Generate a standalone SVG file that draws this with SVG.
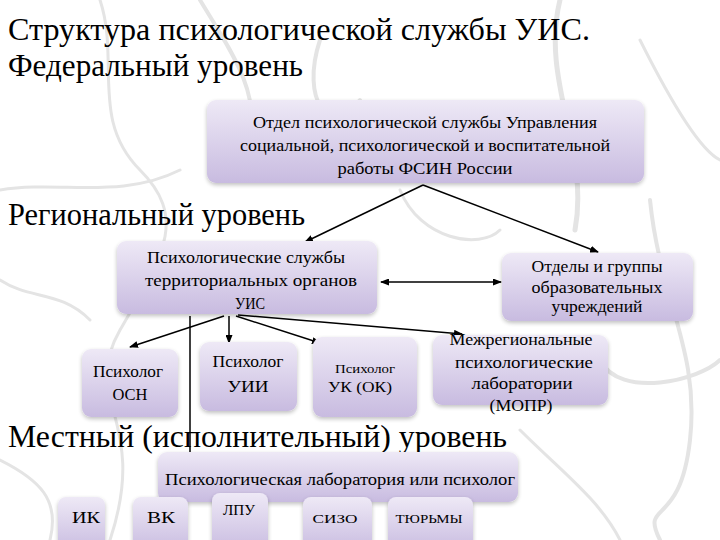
<svg xmlns="http://www.w3.org/2000/svg" width="720" height="540" viewBox="0 0 720 540">
<defs>
<linearGradient id="boxg" x1="0" y1="0" x2="0" y2="1">
<stop offset="0" stop-color="#eee9f6"/>
<stop offset="1" stop-color="#c8bbe0"/>
</linearGradient>
<filter id="sh" x="-10%" y="-10%" width="120%" height="130%">
<feGaussianBlur in="SourceAlpha" stdDeviation="2"/>
<feOffset dx="0" dy="2"/>
<feComponentTransfer><feFuncA type="linear" slope="0.25"/></feComponentTransfer>
<feMerge><feMergeNode/><feMergeNode in="SourceGraphic"/></feMerge>
</filter>
<marker id="ah" markerUnits="userSpaceOnUse" markerWidth="9" markerHeight="7" refX="8" refY="3.5" orient="auto-start-reverse">
<path d="M0,0 L9,3.5 L0,7 z" fill="#000"/>
</marker>
</defs>
<style>
.box{fill:url(#boxg);filter:url(#sh);}
.t{fill:#000;text-anchor:middle;}
.h{fill:#000;}
.c{stroke:#000;stroke-width:1.5;fill:none;}
.bg{stroke:#e4e4e4;fill:none;stroke-linecap:round;}
</style>
<rect width="720" height="540" fill="#fff"/>
<g id="background">
<path class="bg" stroke-width="3" d="M100,0 C120,60 90,120 140,170 S160,260 120,330 S150,420 110,540"/>
<path class="bg" stroke-width="4" d="M200,0 C230,50 260,90 250,140"/>
<path class="bg" stroke-width="3" d="M0,190 C60,180 120,200 180,170"/>
<path class="bg" stroke-width="5" d="M560,0 C540,80 590,150 575,230"/>
<path class="bg" stroke-width="3" d="M640,40 C670,100 700,150 720,160"/>
<path class="bg" stroke-width="4" d="M650,200 C660,300 700,350 690,440 S640,500 660,540"/>
<path class="bg" stroke-width="3" d="M400,190 C420,240 480,250 500,230"/>
<path class="bg" stroke-width="4" d="M600,360 C620,400 700,380 720,360"/>
<path class="bg" stroke-width="3" d="M0,460 C40,480 60,500 50,540"/>
<path class="bg" stroke-width="3" d="M520,430 C560,470 600,500 620,540"/>
<path class="bg" stroke-width="3" d="M0,280 C30,300 60,290 90,320"/>
<path class="bg" stroke-width="4" d="M320,40 C300,100 330,140 360,100"/>
</g>
<g id="titles">
<text class="h" font-family="Liberation Serif" font-size="32" x="8" y="40" textLength="582" lengthAdjust="spacingAndGlyphs">Структура психологической службы УИС.</text>
<text class="h" font-family="Liberation Serif" font-size="32" x="8" y="76" textLength="295" lengthAdjust="spacingAndGlyphs">Федеральный уровень</text>
<text class="h" font-family="Liberation Serif" font-size="32" x="8" y="225" textLength="297" lengthAdjust="spacingAndGlyphs">Региональный уровень</text>
</g>
<g id="connectors">
<line class="c" x1="423" y1="185" x2="305" y2="242" marker-end="url(#ah)"/>
<line class="c" x1="423" y1="185" x2="598" y2="252" marker-end="url(#ah)"/>
<line class="c" x1="381" y1="282" x2="501" y2="282" marker-start="url(#ah)" marker-end="url(#ah)"/>
<line class="c" x1="224" y1="316" x2="130" y2="347" marker-end="url(#ah)"/>
<line class="c" x1="229" y1="316" x2="229" y2="343" stroke-width="1" marker-end="url(#ah)"/>
<line class="c" x1="236" y1="316" x2="320" y2="343" marker-end="url(#ah)"/>
<line class="c" x1="238" y1="315" x2="462" y2="334" marker-end="url(#ah)"/>
<line class="c" x1="190" y1="316" x2="190" y2="454"/>
</g>
<g id="n-federal">
<rect class="box" x="207" y="100" width="437" height="83" rx="9"/>
<text class="t" font-family="Liberation Serif" font-size="16" x="425" y="128" textLength="344" lengthAdjust="spacingAndGlyphs">Отдел психологической службы Управления</text>
<text class="t" font-family="Liberation Serif" font-size="16" x="425" y="151" textLength="370" lengthAdjust="spacingAndGlyphs">социальной, психологической и воспитательной</text>
<text class="t" font-family="Liberation Serif" font-size="16" x="425" y="174" textLength="175" lengthAdjust="spacingAndGlyphs">работы  ФСИН России</text>
</g>
<g id="n-territorial">
<rect class="box" x="117" y="241" width="260" height="73" rx="9"/>
<text class="t" font-family="Liberation Serif" font-size="17" x="246" y="263" textLength="198" lengthAdjust="spacingAndGlyphs">Психологические службы</text>
<text class="t" font-family="Liberation Serif" font-size="17" x="251" y="286" textLength="212" lengthAdjust="spacingAndGlyphs">территориальных органов</text>
<text class="t" font-family="Liberation Serif" font-size="17" x="250" y="309" textLength="30" lengthAdjust="spacingAndGlyphs">УИС</text>
</g>
<g id="n-edu">
<rect class="box" x="502" y="253" width="191" height="68" rx="9"/>
<text class="t" font-family="Liberation Serif" font-size="17" x="597" y="272" textLength="131" lengthAdjust="spacingAndGlyphs">Отделы и группы</text>
<text class="t" font-family="Liberation Serif" font-size="17" x="597" y="293" textLength="131" lengthAdjust="spacingAndGlyphs">образовательных</text>
<text class="t" font-family="Liberation Serif" font-size="17" x="597" y="312" textLength="91" lengthAdjust="spacingAndGlyphs">учреждений</text>
</g>
<g id="n-osn">
<rect class="box" x="82" y="349" width="96" height="68" rx="9"/>
<text class="t" font-family="Liberation Serif" font-size="16" x="128" y="377" textLength="70" lengthAdjust="spacingAndGlyphs">Психолог</text>
<text class="t" font-family="Liberation Serif" font-size="16" x="130" y="400" textLength="35" lengthAdjust="spacingAndGlyphs">ОСН</text>
</g>
<g id="n-uii">
<rect class="box" x="200" y="342" width="97" height="69" rx="9"/>
<text class="t" font-family="Liberation Serif" font-size="16" x="248" y="367" textLength="71" lengthAdjust="spacingAndGlyphs">Психолог</text>
<text class="t" font-family="Liberation Serif" font-size="16" x="248" y="392" textLength="41" lengthAdjust="spacingAndGlyphs">УИИ</text>
</g>
<g id="n-uk">
<rect class="box" x="313" y="337" width="104" height="80" rx="9"/>
<text class="t" font-family="Liberation Serif" font-size="13" x="365" y="373" textLength="60" lengthAdjust="spacingAndGlyphs">Психолог</text>
<text class="t" font-family="Liberation Serif" font-size="14" x="360" y="392" textLength="64" lengthAdjust="spacingAndGlyphs">УК (ОК)</text>
</g>
<g id="n-mopr">
<rect class="box" x="433" y="335" width="175" height="70" rx="9"/>
<text class="t" font-family="Liberation Serif" font-size="16" x="521" y="345" textLength="143" lengthAdjust="spacingAndGlyphs">Межрегиональные</text>
<text class="t" font-family="Liberation Serif" font-size="16" x="524" y="368" textLength="138" lengthAdjust="spacingAndGlyphs">психологические</text>
<text class="t" font-family="Liberation Serif" font-size="16" x="522" y="389" textLength="101" lengthAdjust="spacingAndGlyphs">лаборатории</text>
<text class="t" font-family="Liberation Serif" font-size="16" x="521" y="411" textLength="63" lengthAdjust="spacingAndGlyphs">(МОПР)</text>
</g>
<g id="title-local">
<text class="h" font-family="Liberation Serif" font-size="32" x="8" y="447" textLength="499" lengthAdjust="spacingAndGlyphs">Местный (исполнительный) уровень</text>
</g>
<g id="n-lab">
<rect class="box" x="158" y="452" width="360" height="50" rx="9"/>
<text class="t" font-family="Liberation Serif" font-size="16" x="340" y="485" textLength="350" lengthAdjust="spacingAndGlyphs">Психологическая лаборатория или психолог</text>
</g>
<g id="n-ik">
<rect class="box" x="58" y="497" width="47" height="55" rx="8"/>
<text class="t" font-family="Liberation Serif" font-size="17" x="86" y="523" textLength="28" lengthAdjust="spacingAndGlyphs">ИК</text>
</g>
<g id="n-vk">
<rect class="box" x="133" y="497" width="55" height="55" rx="8"/>
<text class="t" font-family="Liberation Serif" font-size="17" x="161" y="523" textLength="28" lengthAdjust="spacingAndGlyphs">ВК</text>
</g>
<g id="n-lpu">
<rect class="box" x="212" y="493" width="56" height="59" rx="8"/>
<text class="t" font-family="Liberation Serif" font-size="14" x="239" y="515" textLength="32" lengthAdjust="spacingAndGlyphs">ЛПУ</text>
</g>
<g id="n-sizo">
<rect class="box" x="303" y="497" width="69" height="55" rx="8"/>
<text class="t" font-family="Liberation Serif" font-size="13" x="335" y="523" textLength="45" lengthAdjust="spacingAndGlyphs">СИЗО</text>
</g>
<g id="n-prisons">
<rect class="box" x="388" y="497" width="85" height="55" rx="8"/>
<text class="t" font-family="Liberation Serif" font-size="12" x="429" y="523" textLength="67" lengthAdjust="spacingAndGlyphs">ТЮРЬМЫ</text>
</g>
</svg>
